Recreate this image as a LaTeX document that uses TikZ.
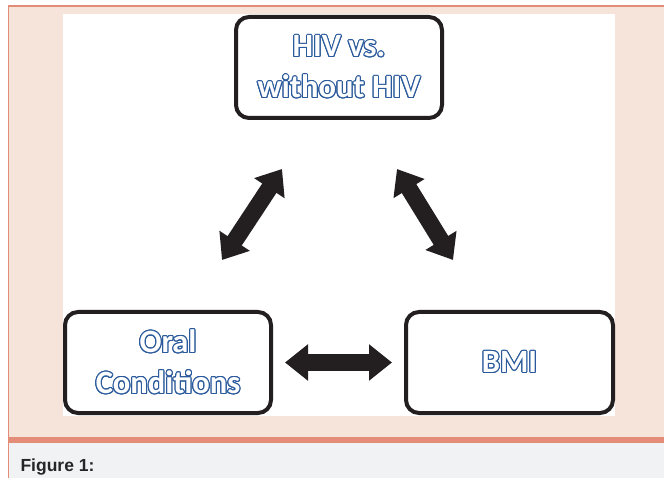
\documentclass[tikz,border=0pt]{standalone}
\usepackage{fontspec}
\setmainfont{Carlito}
\newfontfamily\capfont{Liberation Sans}
\usepackage[copies]{contour}
\usetikzlibrary{arrows.meta}
\definecolor{peach}{HTML}{F6E4DA}
\definecolor{salmon}{HTML}{E38C78}
\definecolor{capgray}{HTML}{F1F2F4}
\definecolor{boxline}{HTML}{231F20}
\definecolor{wordblue}{HTML}{2B5B9C}
\contourlength{1.1pt}
\newcommand{\wordart}[1]{{\color{white}\contour{wordblue}{#1}}}
\tikzset{
    boxnode/.style={draw=boxline, line width=4pt, rounded corners=13pt, fill=white,
        minimum width=206pt, minimum height=101pt, inner sep=0pt, align=center,
        font=\bfseries\fontsize{32.5}{41}\selectfont},
    dblarrow/.style={draw=boxline, line width=17pt,
        {Triangle[width=35pt,length=23pt]}-{Triangle[width=35pt,length=23pt]}}
}
\begin{document}
\begin{tikzpicture}[x=1pt, y=-1pt]
    \useasboundingbox (0,0) rectangle (664,478);
    \fill[white] (0,0) rectangle (664,478);
    \fill[peach] (8,6) rectangle (664,437);
    \fill[salmon] (8,5.5) rectangle (664,7.5);
    \fill[salmon] (7.5,5.5) rectangle (9,478);
    \fill[white] (63,14) rectangle (615,416);
    \fill[salmon] (9,437) rectangle (664,443);
    \fill[capgray] (9,443) rectangle (664,478);
    \node[anchor=base west, font=\capfont\bfseries\fontsize{17.5}{20}\selectfont, text=black!85] (cap) at (17,471) {Figure 1:};
    \node[boxnode] (hiv) at (339,67.5) {\wordart{HIV vs.}\\\wordart{without HIV}};
    \node[boxnode, minimum width=206pt] (oral) at (168,362.5) {\wordart{Oral}\\\wordart{Conditions}};
    \node[boxnode, minimum width=207pt] (bmi) at (509.5,362.5) {\wordart{BMI}};
    \coordinate (l1) at (222,260);
    \coordinate (l2) at (282,169);
    \coordinate (r1) at (397,169);
    \coordinate (r2) at (453,260);
    \draw[dblarrow] (l1) -- (l2);
    \draw[dblarrow] (r1) -- (r2);
    \draw[dblarrow, shorten <=12pt, shorten >=12pt] (oral) -- (bmi);
\end{tikzpicture}
\end{document}
